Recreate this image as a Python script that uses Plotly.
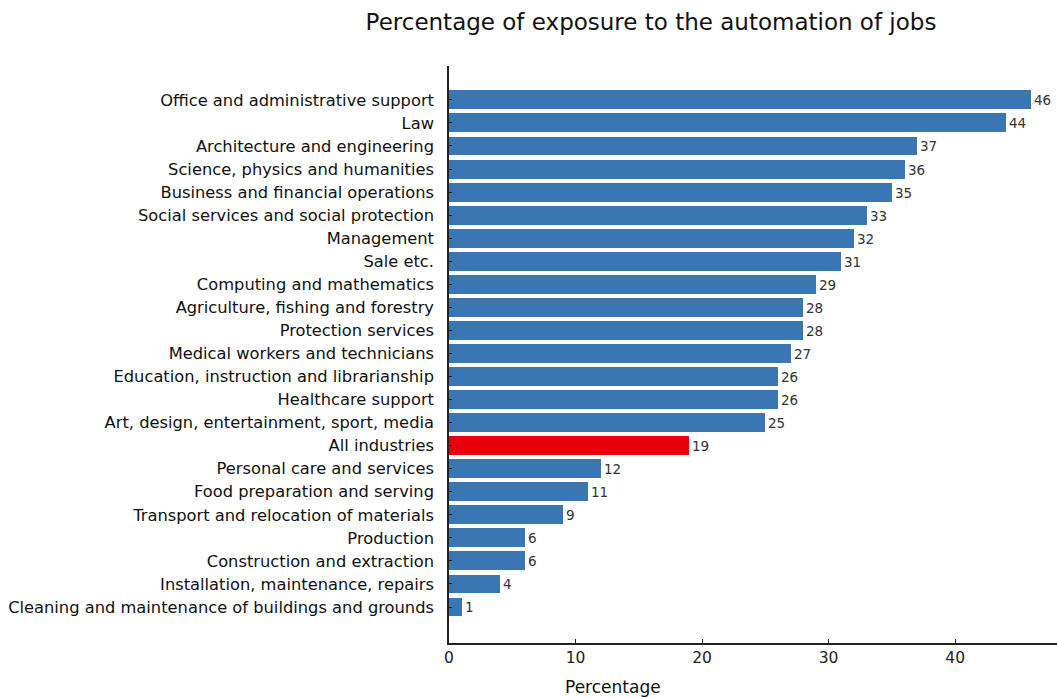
import plotly.graph_objects as go

categories = [
    "Office and administrative support",
    "Law",
    "Architecture and engineering",
    "Science, physics and humanities",
    "Business and financial operations",
    "Social services and social protection",
    "Management",
    "Sale etc.",
    "Computing and mathematics",
    "Agriculture, fishing and forestry",
    "Protection services",
    "Medical workers and technicians",
    "Education, instruction and librarianship",
    "Healthcare support",
    "Art, design, entertainment, sport, media",
    "All industries",
    "Personal care and services",
    "Food preparation and serving",
    "Transport and relocation of materials",
    "Production",
    "Construction and extraction",
    "Installation, maintenance, repairs",
    "Cleaning and maintenance of buildings and grounds",
]
values = [46, 44, 37, 36, 35, 33, 32, 31, 29, 28, 28, 27, 26, 26, 25, 19, 12, 11, 9, 6, 6, 4, 1]
highlight = "All industries"

blue = "#3a76b2"
red = "#e6000c"
colors = [red if c == highlight else blue for c in categories]

# plot bottom-to-top
cats_r = categories[::-1]
vals_r = values[::-1]
cols_r = colors[::-1]

W, H = 1057, 698
L, R, T, B = 449, 0, 66, 55

fig = go.Figure(go.Bar(
    x=vals_r, y=cats_r, orientation="h",
    marker=dict(color=cols_r, line=dict(width=0)),
    width=0.82,
    text=[str(v) for v in vals_r], textposition="outside",
    textfont=dict(family="DejaVu Sans", size=13.5, color="#333333"),
    cliponaxis=False,
))

fig.update_layout(
    width=W, height=H,
    margin=dict(l=L, r=R, t=T, b=B, autoexpand=False),
    plot_bgcolor="white", paper_bgcolor="white",
    font=dict(family="DejaVu Sans", color="#111111"),
    title=dict(text="Percentage of exposure to the automation of jobs",
               x=651 / W, xref="container", xanchor="center",
               y=1 - 22 / H, yref="container", yanchor="middle",
               font=dict(size=23, family="DejaVu Sans", color="#111111")),
    showlegend=False,
    bargap=0,
)
fig.update_xaxes(
    range=[0, 48.05], tickvals=[0, 10, 20, 30, 40],
    showgrid=False, zeroline=False,
    showline=True, linecolor="#222222", linewidth=1.5,
    ticks="inside", ticklen=4, tickcolor="#222222",
    tickfont=dict(size=15.5, family="DejaVu Sans", color="#222222"),
    automargin=False,
)
fig.update_yaxes(
    range=[-1.56, 22 + 1.47],
    showgrid=False, zeroline=False,
    showline=True, linecolor="#222222", linewidth=1.5,
    ticks="inside", ticklen=3, tickcolor="#222222",
    tickfont=dict(size=16.3, family="DejaVu Sans", color="#111111"),
    ticklabelstandoff=10,
    automargin=False,
)
plot_w = W - L - R
plot_h = H - T - B
fig.add_annotation(
    text="Percentage", xref="paper", yref="paper",
    x=(613 - L) / plot_w, y=-(687 - (H - B)) / plot_h,
    xanchor="center", yanchor="middle", showarrow=False,
    font=dict(size=17, family="DejaVu Sans", color="#111111"),
)

fig.write_html(
    "out.html",
    config={"displayModeBar": False},
    post_script="document.body.style.margin='0';document.body.style.overflow='hidden';",
)
